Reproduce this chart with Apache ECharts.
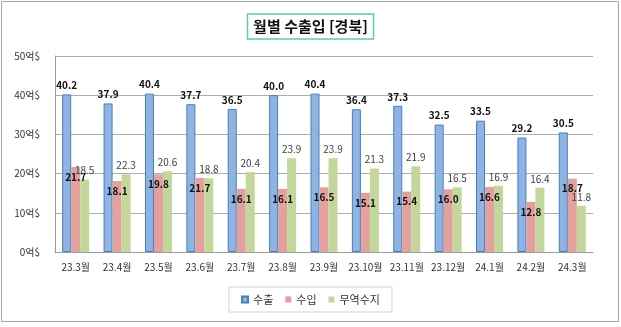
<!DOCTYPE html>
<html><head><meta charset="utf-8">
<script src="https://cdn.jsdelivr.net/npm/echarts@6/dist/echarts.min.js"></script>
<style>html,body{margin:0;padding:0;background:#fff}#c{width:621px;height:327px}</style>
</head><body><div id="c"></div>
<script>
const categories = ['23.3월','23.4월','23.5월','23.6월','23.7월','23.8월','23.9월','23.10월','23.11월','23.12월','24.1월','24.2월','24.3월'];
const exportVals = [40.2, 37.9, 40.4, 37.7, 36.5, 40.0, 40.4, 36.4, 37.3, 32.5, 33.5, 29.2, 30.5];
const importVals = [21.7, 18.1, 19.8, 18.9, 16.1, 16.1, 16.5, 15.1, 15.4, 16.0, 16.6, 12.8, 18.7];
const importLabels = ['21.7','18.1','19.8','21.7','16.1','16.1','16.5','15.1','15.4','16.0','16.6','12.8','18.7'];
const balanceVals = [18.5, 19.8, 20.6, 18.8, 20.4, 23.9, 23.9, 21.3, 21.9, 16.5, 16.9, 16.4, 11.8];
const balanceLabels = ['18.5','22.3','20.6','18.8','20.4','23.9','23.9','21.3','21.9','16.5','16.9','16.4','11.8'];
const yTicks = [0, 10, 20, 30, 40, 50];
const seriesNames = ['수출','수입','무역수지'];

const FONT = "'Noto Sans CJK KR', sans-serif";
const chart = echarts.init(document.getElementById('c'), null, {renderer:'canvas'});
chart.setOption({
  animation:false,
  textStyle:{fontFamily:FONT},
  graphic:[{type:'rect', shape:{x:1.5,y:1.5,width:617,height:320}, style:{fill:'none', stroke:'#a6a6a6', lineWidth:1}, silent:true}],
  title:{
    text:'월별 수출입 [경북]', left:'center', top:14,
    padding:[5,6,5,6], borderColor:'#66cc99', borderWidth:1.5,
    textStyle:{fontFamily:FONT, fontSize:15, fontWeight:'bold', color:'#111'}
  },
  legend:{
    data:seriesNames, bottom:15, left:'center',
    itemWidth:6, itemHeight:6, itemGap:12, icon:'rect',
    padding:[7,12,7,12], borderColor:'#c5d3e8', borderWidth:1,
    textStyle:{fontFamily:FONT, fontSize:11, color:'#333'}
  },
  grid:{left:55, right:28, top:56, bottom:75},
  xAxis:{
    type:'category', data:categories,
    axisLine:{lineStyle:{color:'#9a9a9a'}},
    axisTick:{show:false},
    axisLabel:{fontFamily:FONT, fontSize:10, color:'#333', margin:10, interval:0}
  },
  yAxis:{
    type:'value', min:yTicks[0], max:yTicks[yTicks.length-1], interval:10,
    axisLine:{show:true, lineStyle:{color:'#9a9a9a'}},
    axisTick:{show:false},
    splitLine:{lineStyle:{color:'#adadad'}},
    axisLabel:{fontFamily:FONT, fontSize:10, color:'#333', margin:15, formatter:v=>v+'억$'}
  },
  series:[
    {name:seriesNames[0], type:'bar', data:exportVals, barWidth:9, barGap:'0%',
     itemStyle:{color:'#8db4e2', borderColor:'#4a7ebb', borderWidth:1},
     label:{show:true, position:'top', distance:4, fontFamily:FONT, fontSize:10, fontWeight:'bold', color:'#111', formatter:p=>p.value.toFixed(1)}},
    {name:seriesNames[1], type:'bar', data:importVals, barWidth:9,
     itemStyle:{color:'#e3a09d'},
     label:{show:true, position:'insideTop', distance:5, fontFamily:FONT, fontSize:10, fontWeight:'bold', color:'#111', formatter:p=>importLabels[p.dataIndex]}},
    {name:seriesNames[2], type:'bar', data:balanceVals, barWidth:9,
     itemStyle:{color:'#c3d69b'},
     label:{show:true, position:'top', distance:4, fontFamily:FONT, fontSize:10, color:'#404040', formatter:p=>balanceLabels[p.dataIndex]}}
  ]
});
</script></body></html>
